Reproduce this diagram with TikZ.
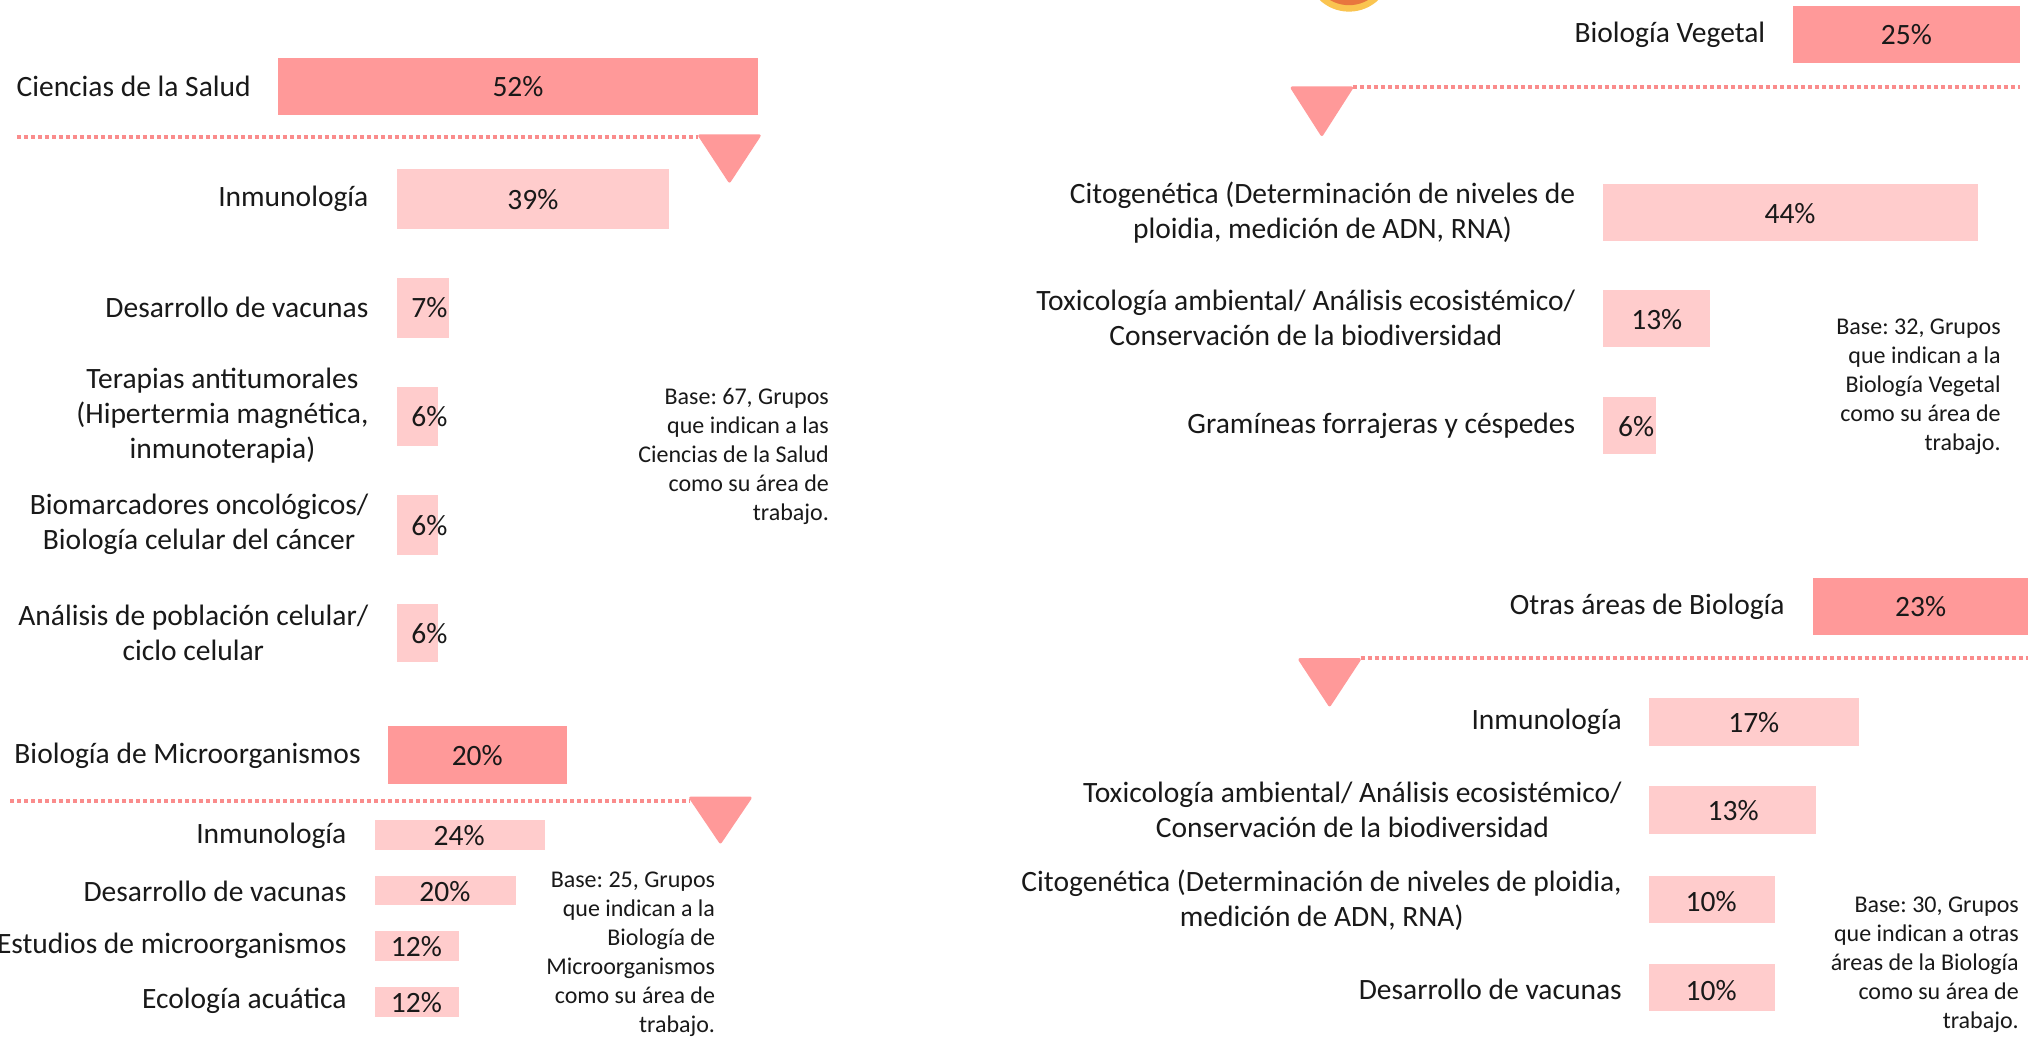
\documentclass[tikz,border=0pt]{standalone}
\usepackage{fontspec}
\setmainfont{Carlito}
\frenchspacing
\definecolor{hdr}{RGB}{255,153,153}
\definecolor{sub}{RGB}{255,204,204}
\definecolor{sepc}{RGB}{250,140,140}
\definecolor{blob}{RGB}{232,118,62}
\definecolor{blobedge}{RGB}{250,196,80}
\begin{document}
\begin{tikzpicture}[x=1.2934bp, y=-1.2934bp,
  lbl/.style={font=\fontsize{29.5bp}{35bp}\selectfont, align=center, anchor=east, inner sep=0pt, text=black!90},
  pct/.style={font=\fontsize{29.5bp}{35bp}\selectfont, inner sep=0pt, text=black!90},
  basetxt/.style={font=\fontsize{24bp}{29bp}\selectfont, align=right, anchor=east, inner sep=0pt, text=black!90},
  hbar/.style={fill=hdr},
  sbar/.style={fill=sub},
  sepline/.style={draw=sepc, line width=4bp, dash pattern=on 4bp off 3bp},
  tri/.style={fill=hdr, draw=hdr, line join=round, line width=3bp}]
\useasboundingbox (0,0) rectangle (1568,803);
\clip (0,0) rectangle (1568,803);
\fill[white] (0,0) rectangle (1568,803);

% partially visible emblem at top
\fill[blobedge] (1043,-24) circle (33);
\fill[blob] (1043,-25) circle (29);

% ================= Ciencias de la Salud =================
\node[lbl] (cs) at (194,67) {Ciencias de la Salud};
\path[hbar] (215,45) rectangle (586,89);
\node[pct] (cs-p) at (400.5,67) {52\%};
\coordinate (cs-s) at (13,106);
\coordinate (cs-e) at (540,106);
\draw[sepline] (cs-s) -- (cs-e);
\coordinate (cs-t1) at (541,105);
\coordinate (cs-t2) at (587,105);
\coordinate (cs-t3) at (564,140);
\path[tri] (cs-t1) -- (cs-t2) -- (cs-t3) -- cycle;

\node[lbl] (cs1) at (285,154) {Inmunología};
\path[sbar] (307,131) rectangle (517,177);
\node[pct] (cs1-p) at (412,154) {39\%};

\node[lbl] (cs2) at (285,238) {Desarrollo de vacunas};
\path[sbar] (307,215) rectangle (347,261);
\node[pct] (cs2-p) at (332,238) {7\%};

\node[lbl] (cs3) at (285,321) {Terapias antitumorales\\(Hipertermia magnética,\\inmunoterapia)};
\path[sbar] (307,299) rectangle (339,345);
\node[pct] (cs3-p) at (332,322) {6\%};

\node[lbl] (cs4) at (285,405) {Biomarcadores oncológicos/\\Biología celular del cáncer};
\path[sbar] (307,383) rectangle (339,429);
\node[pct] (cs4-p) at (332,406) {6\%};

\node[lbl] (cs5) at (285,489) {Análisis de población celular/\\ciclo celular};
\path[sbar] (307,467) rectangle (339,512);
\node[pct] (cs5-p) at (332,490) {6\%};

\node[basetxt] (cs-base) at (641,353) {Base: 67, Grupos\\que indican a las\\Ciencias de la Salud\\como su área de\\trabajo.};

% ================= Biología de Microorganismos =================
\node[lbl] (bm) at (279,584) {Biología de Microorganismos};
\path[hbar] (300,561) rectangle (438,606);
\node[pct] (bm-p) at (369,584) {20\%};
\coordinate (bm-s) at (8,619);
\coordinate (bm-e) at (533,619);
\draw[sepline] (bm-s) -- (bm-e);
\coordinate (bm-t1) at (534,617);
\coordinate (bm-t2) at (580,617);
\coordinate (bm-t3) at (557,651);
\path[tri] (bm-t1) -- (bm-t2) -- (bm-t3) -- cycle;

\node[lbl] (bm1) at (268,646) {Inmunología};
\path[sbar] (290,634) rectangle (421,657);
\node[pct] (bm1-p) at (355,646) {24\%};

\node[lbl] (bm2) at (268,689) {Desarrollo de vacunas};
\path[sbar] (290,677) rectangle (399,700);
\node[pct] (bm2-p) at (344,689) {20\%};

\node[lbl] (bm3) at (268,731) {Estudios de microorganismos};
\path[sbar] (290,720) rectangle (355,743);
\node[pct] (bm3-p) at (322,732) {12\%};

\node[lbl] (bm4) at (268,774) {Ecología acuática};
\path[sbar] (290,763) rectangle (355,786);
\node[pct] (bm4-p) at (322,775) {12\%};

\node[basetxt] (bm-base) at (553,738) {Base: 25, Grupos\\que indican a la\\Biología de\\Microorganismos\\como su área de\\trabajo.};

% ================= Biología Vegetal =================
\node[lbl] (bv) at (1365,27) {Biología Vegetal};
\path[hbar] (1386,5) rectangle (1562,49);
\node[pct] (bv-p) at (1474,27) {25\%};
\coordinate (bv-s) at (1046,67);
\coordinate (bv-e) at (1562,67);
\draw[sepline] (bv-s) -- (bv-e);
\coordinate (bv-t1) at (999,68);
\coordinate (bv-t2) at (1045,68);
\coordinate (bv-t3) at (1022,104);
\path[tri] (bv-t1) -- (bv-t2) -- (bv-t3) -- cycle;

\node[lbl] (bv1) at (1218,164) {Citogenética (Determinación de niveles de\\ploidia, medición de ADN, RNA)};
\path[sbar] (1239,142) rectangle (1529,186);
\node[pct] (bv1-p) at (1384,165) {44\%};

\node[lbl] (bv2) at (1218,246) {Toxicología ambiental/ Análisis ecosistémico/\\Conservación de la biodiversidad};
\path[sbar] (1239,224) rectangle (1322,268);
\node[pct] (bv2-p) at (1281,247) {13\%};

\node[lbl] (bv3) at (1218,329) {Gramíneas forrajeras y céspedes};
\path[sbar] (1239,307) rectangle (1280,351);
\node[pct] (bv3-p) at (1265,330) {6\%};

\node[basetxt] (bv-base) at (1547,299) {Base: 32, Grupos\\que indican a la\\Biología Vegetal\\como su área de\\trabajo.};

% ================= Otras áreas de Biología =================
\node[lbl] (oa) at (1380,469) {Otras áreas de Biología};
\path[hbar] (1402,447) rectangle (1575,491);
\node[pct] (oa-p) at (1485,469) {23\%};
\coordinate (oa-s) at (1052,509);
\coordinate (oa-e) at (1575,509);
\draw[sepline] (oa-s) -- (oa-e);
\coordinate (oa-t1) at (1005,510);
\coordinate (oa-t2) at (1051,510);
\coordinate (oa-t3) at (1028,545);
\path[tri] (oa-t1) -- (oa-t2) -- (oa-t3) -- cycle;

\node[lbl] (oa1) at (1254,558) {Inmunología};
\path[sbar] (1275,540) rectangle (1437,577);
\node[pct] (oa1-p) at (1356,559) {17\%};

\node[lbl] (oa2) at (1254,626) {Toxicología ambiental/ Análisis ecosistémico/\\Conservación de la biodiversidad};
\path[sbar] (1275,608) rectangle (1404,645);
\node[pct] (oa2-p) at (1340,627) {13\%};

\node[lbl] (oa3) at (1254,696) {Citogenética (Determinación de niveles de ploidia,\\medición de ADN, RNA)};
\path[sbar] (1275,677) rectangle (1372,714);
\node[pct] (oa3-p) at (1323,697) {10\%};

\node[lbl] (oa4) at (1254,765) {Desarrollo de vacunas};
\path[sbar] (1275,745) rectangle (1372,782);
\node[pct] (oa4-p) at (1323,766) {10\%};

\node[basetxt] (oa-base) at (1561,746) {Base: 30, Grupos\\que indican a otras\\áreas de la Biología\\como su área de\\trabajo.};
\end{tikzpicture}
\end{document}
